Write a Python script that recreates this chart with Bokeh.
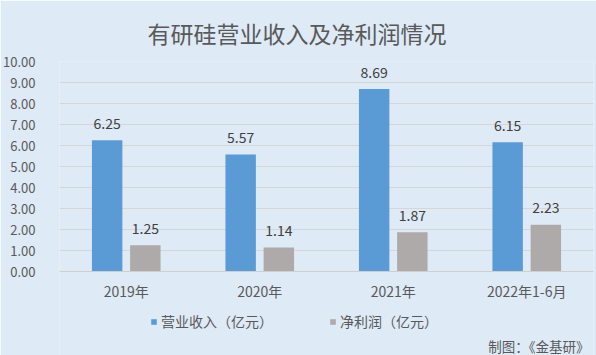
from bokeh.plotting import figure
from bokeh.models import (FactorRange, Range1d, ColumnDataSource, Legend, LegendItem,
                          Label, NumeralTickFormatter, FixedTicker, Span)
from bokeh.core.properties import value
from bokeh.transform import dodge
from bokeh.embed import file_html
from bokeh.resources import INLINE

# ---- data ----
categories = ["2019年", "2020年", "2021年", "2022年1-6月"]
revenue = [6.25, 5.57, 8.69, 6.15]        # 营业收入（亿元）
net_profit = [1.25, 1.14, 1.87, 2.23]     # 净利润（亿元）
y_ticks = [0, 1, 2, 3, 4, 5, 6, 7, 8, 9, 10]
series_names = ["营业收入（亿元）", "净利润（亿元）"]
title_text = "有研硅营业收入及净利润情况"
source_text = "制图：《金基研》"

BG = "#DEEAF6"
BLUE = "#5B9BD5"
GRAY = "#AEAAAA"
FONT = "'Noto Sans CJK SC', sans-serif"

W, H = 596, 355
TOP, BOTTOM = 61, 0          # frame borders (frame extends to the bottom edge)
AXIS_PX = 271                # pixel row of value 0
y_max = 10
px_per_unit = (AXIS_PX - TOP) / y_max
y_min = -(H - AXIS_PX) / px_per_unit

src = ColumnDataSource(dict(
    cat=categories,
    rev=revenue,
    np=net_profit,
    zero=[0] * len(categories),
    rev_lbl=[f"{v:.2f}" for v in revenue],
    np_lbl=[f"{v:.2f}" for v in net_profit],
))

p = figure(x_range=FactorRange(*categories, range_padding=0),
           y_range=Range1d(y_min, y_max),
           width=W, height=H, output_backend="svg", toolbar_location=None,
           x_axis_location=None,
           background_fill_color=BG, border_fill_color=BG, outline_line_color=None,
           min_border_left=57, min_border_right=3, min_border_top=TOP,
           min_border_bottom=BOTTOM)

p.title.text = title_text
p.title.align = "left"
p.title.vertical_align = "top"
p.title.text_font = FONT
p.title.text_font_size = "23px"
p.title.text_font_style = "normal"
p.title.text_color = "#595959"
p.title.offset = 88
p.title.standoff = 19

off = 0.143
w = 0.228
r1 = p.vbar(x=dodge("cat", -off, range=p.x_range), top="rev", width=w, source=src,
            fill_color=BLUE, line_color=None)
r2 = p.vbar(x=dodge("cat", off, range=p.x_range), top="np", width=w, source=src,
            fill_color=GRAY, line_color=None)

for col, lbl, dx in (("rev", "rev_lbl", -off), ("np", "np_lbl", off)):
    p.text(x=dodge("cat", dx, range=p.x_range), y=col, text=lbl, source=src,
           text_align="center", text_baseline="middle", y_offset=-17,
           text_font_size="14px", text_color="#404040", text_font=value(FONT))

# category labels under the baseline
p.text(x="cat", y="zero", text="cat", source=src, text_align="center",
       text_baseline="middle", y_offset=19, text_font_size="14px",
       text_color="#595959", text_font=value(FONT))

p.add_layout(Span(location=0, dimension="width", line_color="#CFCFCF", line_width=1))

p.yaxis.ticker = FixedTicker(ticks=y_ticks)
p.yaxis.formatter = NumeralTickFormatter(format="0.00")
p.yaxis.axis_line_color = None
p.yaxis.major_tick_line_color = None
p.yaxis.minor_tick_line_color = None
p.yaxis.major_label_text_color = "#595959"
p.yaxis.major_label_text_font = FONT
p.yaxis.major_label_text_font_size = "13px"
p.yaxis.major_label_standoff = 18

p.xgrid.grid_line_color = None
p.ygrid.ticker = FixedTicker(ticks=y_ticks)
p.ygrid.grid_line_color = "#D6D6D6"
p.ygrid.grid_line_width = 1

legend = Legend(items=[LegendItem(label=series_names[0], renderers=[r1]),
                       LegendItem(label=series_names[1], renderers=[r2])],
                location=(91, 24), orientation="horizontal",
                background_fill_alpha=0, border_line_alpha=0,
                label_text_font=FONT, label_text_font_size="14px",
                label_text_color="#595959", glyph_width=7, glyph_height=7,
                label_height=20, spacing=56, padding=0, margin=0, label_standoff=4)
p.add_layout(legend, "center")

src_label = Label(x=530, y=10, x_units="screen", y_units="screen", text=source_text,
                  text_align="right", text_baseline="middle", text_font=FONT,
                  text_font_size="13.5px", text_color="#595959")
p.add_layout(src_label)

open("out.html", "w").write(file_html(p, INLINE))
